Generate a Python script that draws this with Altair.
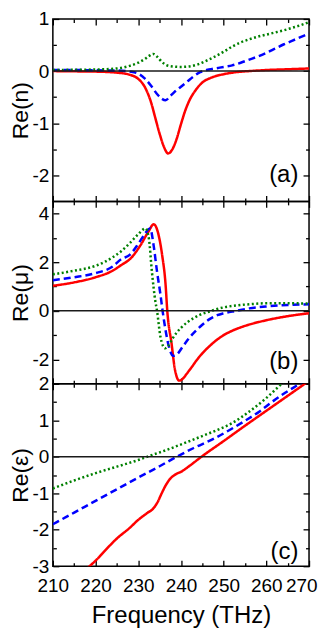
import altair as alt
import pandas as pd

FONT = "Liberation Sans"
W, H = 257, 183

series_names = ["red", "blue", "green"]
series_colors = ["#ff0000", "#0000ff", "#008000"]
series_dashes = [[1, 0], [7, 4], [2, 2.5]]

x_major = [210, 220, 230, 240, 250, 260, 270]
x_minor = [215, 225, 235, 245, 255, 265]

# ---------------- Panel (a): Re(n) ----------------
a_red_f = [210, 215, 220, 225, 228, 230, 231.5, 233, 234, 235, 236, 237, 238, 239, 240, 241, 242, 243.5, 245, 247, 250, 253, 256, 260, 265, 270]
a_red_v = [0.0, -0.005, -0.01, -0.03, -0.07, -0.15, -0.3, -0.6, -0.9, -1.2, -1.45, -1.58, -1.5, -1.3, -1.02, -0.76, -0.56, -0.36, -0.22, -0.13, -0.06, -0.02, 0.0, 0.02, 0.035, 0.05]
a_blue_f = [210, 215, 220, 225, 228, 230, 231.5, 233, 234.5, 235.5, 236.4, 237.5, 238.5, 240, 241.5, 243, 244.5, 246, 248, 250, 252, 254, 256, 258, 260, 262, 264, 266, 268, 270]
a_blue_v = [0.02, 0.02, 0.015, 0.01, -0.01, -0.05, -0.14, -0.28, -0.45, -0.53, -0.56, -0.48, -0.4, -0.3, -0.2, -0.1, -0.02, 0.02, 0.05, 0.08, 0.11, 0.16, 0.22, 0.28, 0.35, 0.43, 0.51, 0.58, 0.65, 0.72]
a_green_f = [210, 215, 220, 225, 228, 230, 231.5, 232.5, 233.5, 234.5, 235.5, 236.5, 238, 240, 242, 244, 246, 248, 250, 252, 254, 256, 258, 260, 262, 264, 266, 268, 270]
a_green_v = [0.02, 0.025, 0.03, 0.05, 0.1, 0.16, 0.23, 0.29, 0.33, 0.27, 0.18, 0.12, 0.09, 0.08, 0.09, 0.13, 0.2, 0.28, 0.37, 0.47, 0.55, 0.61, 0.66, 0.7, 0.74, 0.78, 0.83, 0.88, 0.94]
a_domain = [-2.5, 1]
a_major = [-2, -1, 0, 1]
a_minor = [-1.5, -0.5, 0.5]
a_label = {"f": [267.5], "v": [-2.13], "t": ["(a)"]}

# ---------------- Panel (b): Re(mu) ----------------
b_red_f = [210, 215, 220, 224, 226, 228.2, 230.5, 232.5, 233.6, 234.3, 234.8, 235.6, 236.4, 236.8, 237.8, 238.6, 239.6, 240.5, 241.3, 242.5, 243.6, 245, 246.7, 248, 250, 252, 255, 258, 261, 265, 270]
b_red_v = [1.03, 1.17, 1.38, 1.65, 1.88, 2.15, 2.69, 3.29, 3.56, 3.4, 3.09, 2.29, 1.08, 0.0, -1.34, -2.42, -2.87, -2.78, -2.6, -2.32, -2.05, -1.75, -1.45, -1.25, -1.0, -0.82, -0.62, -0.47, -0.35, -0.22, -0.1]
b_blue_f = [210, 215, 220, 224, 226, 228, 230, 231.5, 232.8, 233.6, 234.4, 235.2, 235.7, 236.5, 237.3, 238.2, 239, 240.5, 242, 243.6, 245, 246.7, 248.5, 250, 253, 256, 260, 265, 270]
b_blue_v = [1.26, 1.38, 1.55, 1.82, 2.12, 2.3, 2.75, 3.15, 3.39, 2.69, 1.61, 0.67, 0.0, -0.9, -1.55, -1.85, -1.8, -1.45, -1.1, -0.8, -0.57, -0.34, -0.18, -0.1, 0.0, 0.1, 0.18, 0.24, 0.27]
b_green_f = [210, 215, 220, 224, 226, 228, 230, 231.7, 232.5, 233.2, 234, 234.4, 235.2, 236.3, 237, 238, 239, 240, 241.5, 243, 244.5, 246.7, 248, 250, 253, 256, 260, 265, 270]
b_green_v = [1.5, 1.65, 1.85, 2.2, 2.45, 2.78, 3.15, 3.39, 2.96, 1.61, 0.4, 0.0, -1.07, -1.54, -1.45, -1.15, -0.9, -0.7, -0.47, -0.3, -0.16, -0.03, 0.05, 0.14, 0.22, 0.27, 0.31, 0.31, 0.3]
b_domain = [-3, 4.5]
b_major = [-2, 0, 2, 4]
b_minor = [-1, 1, 3]
b_label = {"f": [267.5], "v": [-2.38], "t": ["(b)"]}

# ---------------- Panel (c): Re(eps) ----------------
c_red_f = [217.5, 218.6, 220, 222, 225, 228, 230, 232, 233.5, 234.5, 235.5, 236.5, 237.5, 238.5, 240.2, 242, 244.8, 250, 255, 260, 265, 270]
c_red_v = [-3.13, -3.0, -2.85, -2.6, -2.24, -1.95, -1.73, -1.55, -1.42, -1.25, -1.0, -0.77, -0.6, -0.5, -0.4, -0.25, 0.0, 0.43, 0.85, 1.26, 1.67, 2.08]
c_blue_f = [210, 215, 220, 225, 230, 235, 239, 243, 247.8, 251.5, 255.2, 258.5, 261.3, 264.5, 267.8, 270]
c_blue_v = [-1.85, -1.53, -1.21, -0.89, -0.57, -0.26, 0.0, 0.24, 0.5, 0.74, 1.0, 1.25, 1.5, 1.76, 2.0, 2.17]
c_green_f = [210, 215, 220, 225, 230, 232.8, 236.5, 240.5, 244.4, 248.2, 252.1, 255.9, 259.8, 263.6, 267, 270]
c_green_v = [-0.87, -0.65, -0.45, -0.27, -0.09, 0.03, 0.18, 0.36, 0.54, 0.72, 0.93, 1.23, 1.59, 2.0, 2.35, 2.65]
c_domain = [-3, 2]
c_major = [-3, -2, -1, 0, 1, 2]
c_minor = [-2.5, -1.5, -0.5, 0.5, 1.5]
c_label = {"f": [267.5], "v": [-2.79], "t": ["(c)"]}

zero_line = {"f": [210, 270], "v": [0, 0]}


def make_df(parts):
    rows = []
    for name, fs, vs in parts:
        for i, (f, v) in enumerate(zip(fs, vs)):
            rows.append({"f": f, "v": v, "s": name, "i": i})
    return pd.DataFrame(rows)


def tick_axis(vals, orient, size):
    return alt.Axis(values=vals, orient=orient, tickSize=size, offset=-size,
                    labels=False, domain=False, grid=False, title=None,
                    minExtent=0, maxExtent=0,
                    tickColor="black", tickWidth=1.3)


last_label = "datum.value == 270"


def panel(df, domain, major, minor, ytitle, label, bottom):
    xs = alt.Scale(domain=[210, 270], nice=False, zero=False)
    ys = alt.Scale(domain=domain, nice=False, zero=False)
    if bottom:
        x_lab = alt.Axis(values=x_major, orient="bottom", ticks=False, domain=False,
                         grid=False, labelFontSize=19, labelPadding=10,
                         labelExpr="datum.value", labelOverlap=False, labelFlush=False,
                         labelAlign={"condition": {"test": last_label, "value": "right"}, "value": "center"},
                         labelOffset={"condition": {"test": last_label, "value": 8}, "value": 0},
                         title="Frequency (THz)", titleFontSize=24,
                         titleFontWeight="normal", titlePadding=8)
    else:
        x_lab = None
    y_lab = alt.Axis(values=major, orient="left", ticks=False, domain=False, grid=False,
                     labelFontSize=19, labelPadding=4, labelExpr="datum.value",
                     labelOverlap=False, labelFlush=False, minExtent=0,
                     title=ytitle, titleFontSize=23, titleFontWeight="normal",
                     titlePadding=0)
    lines = alt.Chart(df).mark_line(clip=True, strokeWidth=2.5, interpolate="monotone").encode(
        x=alt.X("f:Q", scale=xs, axis=x_lab),
        y=alt.Y("v:Q", scale=ys, axis=y_lab),
        color=alt.Color("s:N", scale=alt.Scale(domain=series_names, range=series_colors), legend=None),
        strokeDash=alt.StrokeDash("s:N", scale=alt.Scale(domain=series_names, range=series_dashes), legend=None),
        order="i:Q",
    )
    zdf = pd.DataFrame(zero_line)
    zero = alt.Chart(zdf).mark_line(color="#1a1a1a", strokeWidth=1.5).encode(
        x=alt.X("f:Q", scale=xs, axis=tick_axis(x_major, "bottom", 6)),
        y=alt.Y("v:Q", scale=ys, axis=tick_axis(major, "left", 6)),
    )
    txt = alt.Chart(pd.DataFrame(label)).mark_text(
        align="right", baseline="alphabetic", fontSize=24, font=FONT, color="black"
    ).encode(
        x=alt.X("f:Q", scale=xs, axis=tick_axis(x_minor, "bottom", 3.5)),
        y=alt.Y("v:Q", scale=ys, axis=tick_axis(minor, "left", 3.5)),
        text="t:N",
    )
    g1 = alt.Chart(zdf).mark_line(opacity=0).encode(
        x=alt.X("f:Q", scale=xs, axis=tick_axis(x_major, "top", 6)),
        y=alt.Y("v:Q", scale=ys, axis=tick_axis(major, "right", 6)),
    )
    g2 = alt.Chart(zdf).mark_line(opacity=0).encode(
        x=alt.X("f:Q", scale=xs, axis=tick_axis(x_minor, "top", 3.5)),
        y=alt.Y("v:Q", scale=ys, axis=tick_axis(minor, "right", 3.5)),
    )
    return alt.layer(lines, zero, txt, g1, g2).resolve_axis(
        x="independent", y="independent"
    ).properties(width=W, height=H)


pa = panel(make_df([("red", a_red_f, a_red_v), ("blue", a_blue_f, a_blue_v), ("green", a_green_f, a_green_v)]),
           a_domain, a_major, a_minor, "Re(n)", a_label, False)
pb = panel(make_df([("red", b_red_f, b_red_v), ("blue", b_blue_f, b_blue_v), ("green", b_green_f, b_green_v)]),
           b_domain, b_major, b_minor, "Re(μ)", b_label, False)
pc = panel(make_df([("red", c_red_f, c_red_v), ("blue", c_blue_f, c_blue_v), ("green", c_green_f, c_green_v)]),
           c_domain, c_major, c_minor, "Re(ε)", c_label, True)

chart = alt.vconcat(pa, pb, pc, spacing=0, bounds="flush").configure_view(
    stroke="black", strokeWidth=1.5
).configure_axis(
    labelFont=FONT, titleFont=FONT, labelColor="black", titleColor="black"
).properties(
    padding={"left": 0, "top": 0, "right": 0, "bottom": 0}
)

chart.save("out.html", embed_options={"renderer": "svg", "actions": False})
